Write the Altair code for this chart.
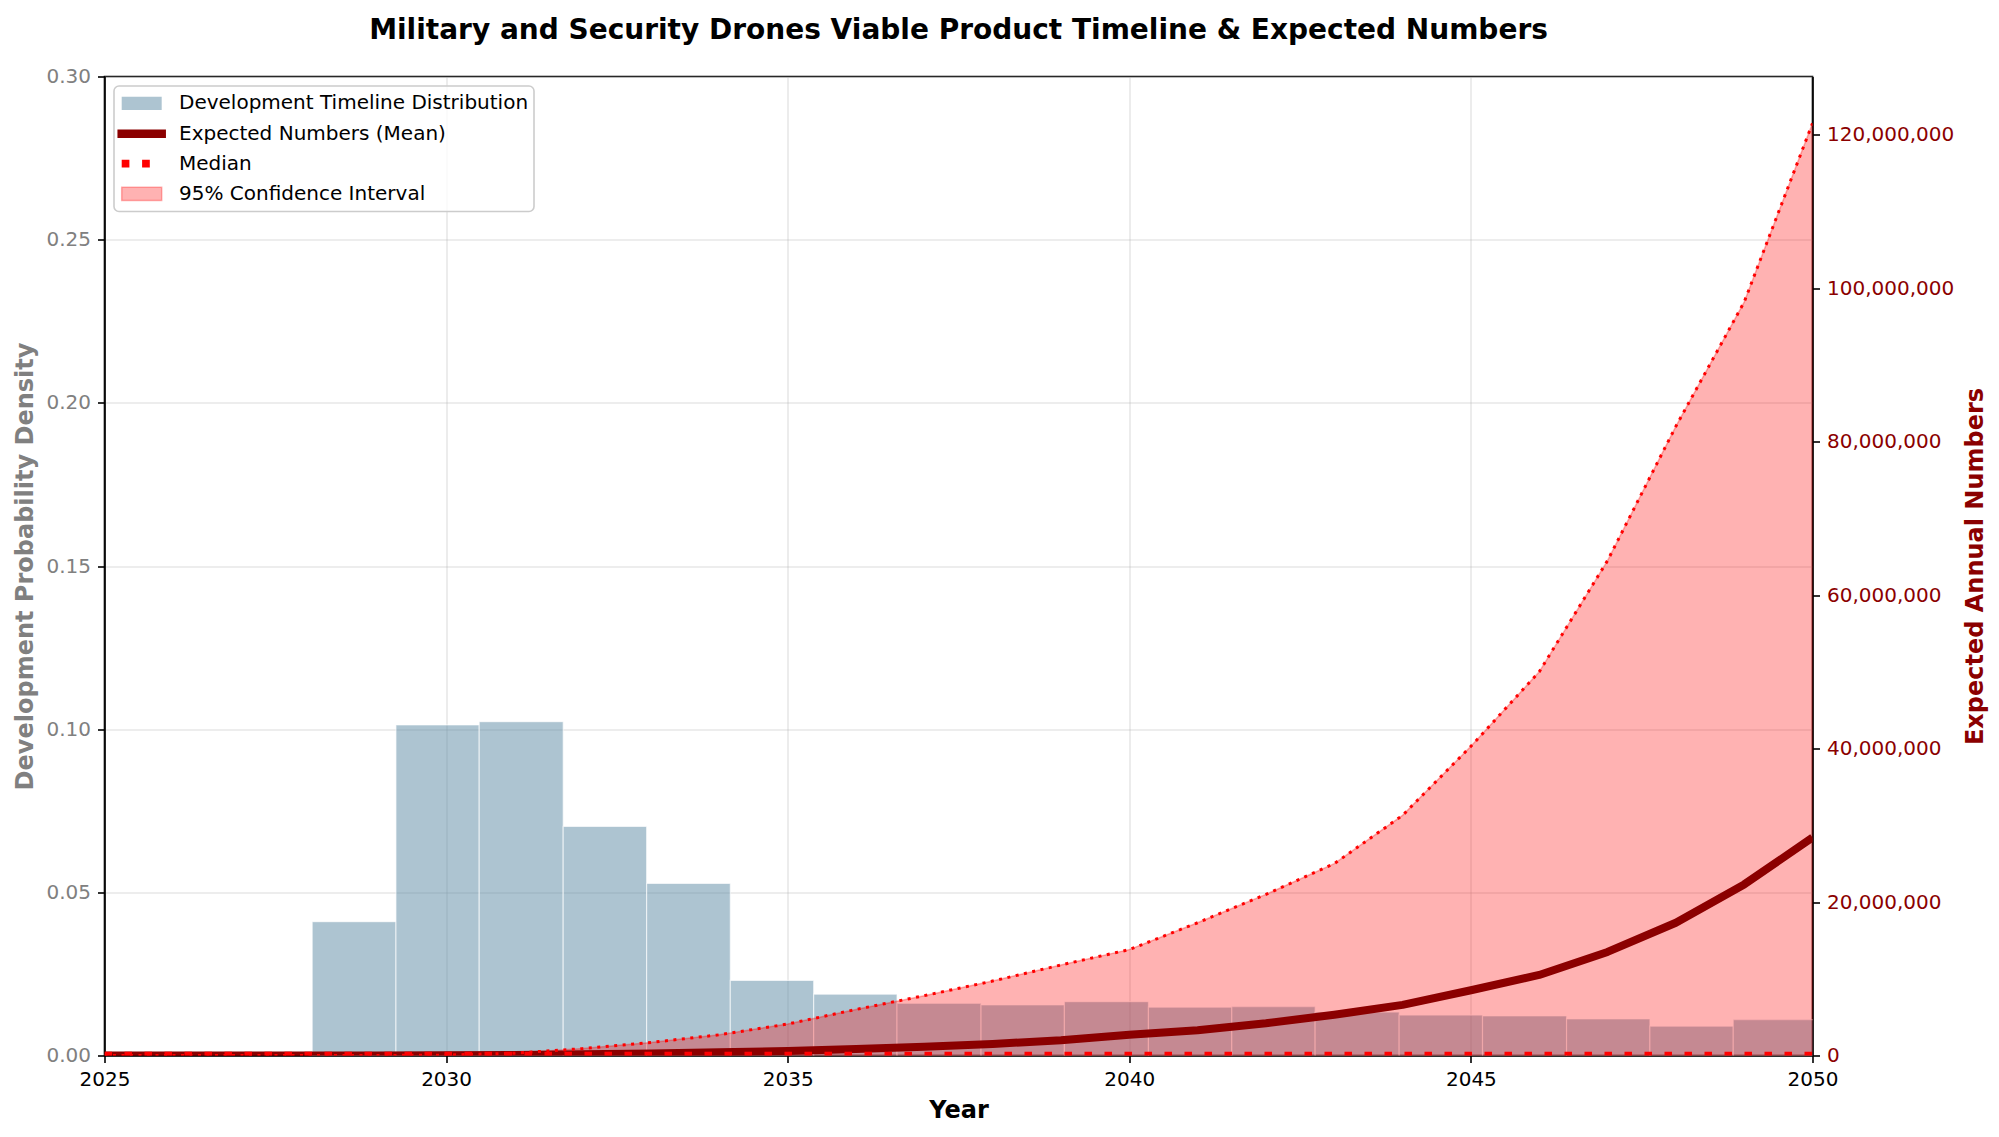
import altair as alt
import pandas as pd

# ---------------- data ----------------
years = [2025, 2026, 2027, 2028, 2029, 2030, 2031, 2032, 2033, 2034, 2035, 2036, 2037,
         2038, 2039, 2040, 2041, 2042, 2043, 2044, 2045, 2046, 2047, 2048, 2049, 2050]
# expected annual numbers, in millions
mean_m = [0, 0, 0, 0, 0, 0.02, 0.08, 0.15, 0.27, 0.42, 0.6, 0.85, 1.15,
          1.5, 2.0, 2.7, 3.3, 4.2, 5.3, 6.6, 8.5, 10.5, 13.5, 17.3, 22.3, 28.4]
median_m = [0, 0, 0, 0, 0, 0, 0, 0, 0, 0, 0, 0, 0,
            0, 0, 0, 0, 0, 0, 0, 0, 0, 0, 0, 0, 0]
lower_m = [0, 0, 0, 0, 0, 0, 0, 0, 0, 0, 0, 0, 0,
           0, 0, 0, 0, 0, 0, 0, 0, 0, 0, 0, 0, 0]
upper_m = [0, 0, 0, 0, 0, 0.05, 0.3, 0.9, 1.7, 2.7, 4.1, 6.0, 7.8,
           9.7, 11.8, 13.8, 17.3, 21.0, 25.0, 31.3, 40.3, 50.0, 64.5, 82.0, 98.2, 121.5]

# development timeline histogram
bin_edges = [2028.04, 2029.266, 2030.485, 2031.714, 2032.935, 2034.16, 2035.38, 2036.60,
             2037.83, 2039.05, 2040.28, 2041.50, 2042.72, 2043.95, 2045.17, 2046.40,
             2047.62, 2048.84, 2050.07]
density = [0.041, 0.1013, 0.1023, 0.0702, 0.0527, 0.023, 0.0188, 0.016, 0.0155,
           0.0165, 0.0148, 0.015, 0.0133, 0.0124, 0.0121, 0.0112, 0.0090, 0.0110]

legend_labels = ["Development Timeline Distribution", "Expected Numbers (Mean)",
                 "Median", "95% Confidence Interval"]

TITLE = "Military and Security Drones Viable Product Timeline & Expected Numbers"

# ---------------- tables ----------------
hist_df = pd.DataFrame({"start": bin_edges[:-1], "end": bin_edges[1:], "density": density})
line_df = pd.DataFrame({
    "year": years,
    "mean": [v * 1e6 for v in mean_m],
    "median": [v * 1e6 for v in median_m],
    "lower": [v * 1e6 for v in lower_m],
    "upper": [v * 1e6 for v in upper_m],
})
one = pd.DataFrame({"k": [0]})

W, H = 1708, 979
FONT = "DejaVu Sans"
DARKRED = "#8b0000"

x_axis = alt.Axis(title="Year", values=[2025, 2030, 2035, 2040, 2045, 2050], format="d",
                  labelFlush=False, grid=True, titlePadding=9, titleColor="black")
x_scale = alt.Scale(domain=[2025, 2050], nice=False, zero=False)

left_axis = alt.Axis(title="Development Probability Density",
                     values=[0, 0.05, 0.1, 0.15, 0.2, 0.25, 0.3], format=".2f",
                     labelColor="#808080", titleColor="#808080", grid=True, titlePadding=8)
right_axis = alt.Axis(title="Expected Annual Numbers", orient="right",
                      values=[0, 2e7, 4e7, 6e7, 8e7, 1e8, 1.2e8], format=",d",
                      labelColor=DARKRED, titleColor=DARKRED, grid=False, titlePadding=10,
                      titleAngle=270, titleBaseline="top")
right_scale = alt.Scale(domain=[0, 127.6e6], nice=False)

bars = alt.Chart(hist_df).mark_rect(
    fill="#5b89a3", fillOpacity=0.5, stroke="white", strokeOpacity=0.6, strokeWidth=1.2, clip=True
).encode(
    x=alt.X("start:Q", scale=x_scale, axis=x_axis),
    x2="end:Q",
    y=alt.Y("density:Q", scale=alt.Scale(domain=[0, 0.3], nice=False), axis=left_axis),
    y2=alt.datum(0),
)

xr = alt.X("year:Q", scale=x_scale, axis=x_axis)

area = alt.Chart(line_df).mark_area(
    fill="red", fillOpacity=0.3, stroke="red", strokeOpacity=0.3, strokeWidth=1.5, clip=True
).encode(
    x=xr,
    y=alt.Y("lower:Q", scale=right_scale, axis=right_axis),
    y2="upper:Q",
)
upper_line = alt.Chart(line_df).mark_line(
    color="red", strokeWidth=3, strokeDash=[3, 5.5], clip=True
).encode(x=xr, y=alt.Y("upper:Q", scale=right_scale, axis=right_axis))
mean_line = alt.Chart(line_df).mark_line(
    color=DARKRED, strokeWidth=8, clip=True, strokeJoin="round"
).encode(x=xr, y=alt.Y("mean:Q", scale=right_scale, axis=right_axis))
median_line = alt.Chart(line_df).mark_line(
    color="red", strokeWidth=7.5, strokeDash=[7.5, 12.5], clip=True
).encode(x=xr, y=alt.Y("median:Q", scale=right_scale, axis=right_axis))

right_layers = alt.layer(area, mean_line, median_line, upper_line)

# ---------------- legend (drawn as decoration) ----------------
frame = alt.Chart(one).mark_rect(
    fill="white", fillOpacity=0.8, stroke="#cccccc", strokeWidth=1.6, cornerRadius=5
).encode(x=alt.value(9.5), x2=alt.value(429.5), y=alt.value(9.5), y2=alt.value(135))
sym1 = alt.Chart(one).mark_rect(fill="#5b89a3", fillOpacity=0.5).encode(
    x=alt.value(17.2), x2=alt.value(57.2), y=alt.value(20.2), y2=alt.value(33.5))
sym2 = alt.Chart(one).mark_rule(color=DARKRED, strokeWidth=8.5, strokeCap="square").encode(
    x=alt.value(17.2), x2=alt.value(57.2), y=alt.value(57.2))
sym3 = alt.Chart(one).mark_rule(color="red", strokeWidth=7.7, strokeDash=[7.7, 12.7]).encode(
    x=alt.value(17.2), x2=alt.value(57.2), y=alt.value(87.2))
sym4 = alt.Chart(one).mark_rect(fill="red", fillOpacity=0.3, stroke="red", strokeOpacity=0.3,
                                strokeWidth=1.5).encode(
    x=alt.value(17.2), x2=alt.value(57.2), y=alt.value(110.8), y2=alt.value(124.1))
texts = []
for lbl, yy in zip(legend_labels, [26.8, 57.2, 87.4, 117.6]):
    texts.append(alt.Chart(one).mark_text(
        text=lbl, align="left", baseline="middle", fontSize=20, font=FONT, color="black"
    ).encode(x=alt.value(74.5), y=alt.value(yy)))

legend = alt.layer(frame, sym1, sym2, sym3, sym4, *texts)

chart = alt.layer(bars, right_layers, legend).resolve_scale(y="independent").properties(
    width=W, height=H,
    title=alt.TitleParams(TITLE, fontSize=28, fontWeight="bold", font=FONT, anchor="middle",
                          offset=22, color="black"),
    autosize=alt.AutoSizeParams(type="none"),
    padding={"left": 96.5, "top": 68.5, "right": 178, "bottom": 70},
).configure(font=FONT).configure_view(
    stroke="black", strokeWidth=1.6
).configure_axis(
    labelFont=FONT, titleFont=FONT, labelFontSize=20, titleFontSize=24, titleFontWeight="bold",
    domainColor="black", domainWidth=1.6, tickColor="black", tickWidth=1.6, tickSize=7,
    labelPadding=7, gridColor="#b0b0b0", gridOpacity=0.3, gridWidth=1.6,
)

chart.save("out.html", embed_options={"renderer": "svg", "actions": False})
